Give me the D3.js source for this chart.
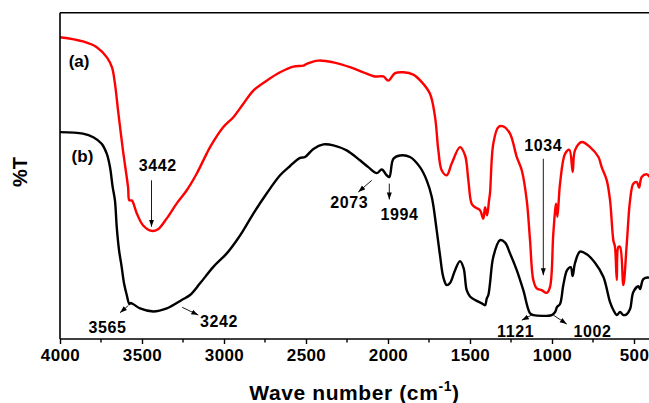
<!DOCTYPE html>
<html>
<head>
<meta charset="utf-8">
<script src="https://cdn.jsdelivr.net/npm/d3@7/dist/d3.min.js"></script>
<style>
body { margin: 0; background: #fff; }
svg text { font-family: "Liberation Sans", Arial, sans-serif; font-weight: bold; fill: #000; }
</style>
</head>
<body>
<svg id="chart" width="649" height="403"></svg>
<script>
// spectrum (a) - red
var waveA = [4000, 3860, 3774, 3713, 3683, 3665, 3646, 3616, 3585, 3577, 3563, 3555, 3532, 3494, 3441, 3402,
  3349, 3288, 3227, 3166, 3105, 3085, 3004, 2943, 2882, 2821, 2740, 2658, 2577, 2516, 2496, 2425, 2333, 2232,
  2150, 2079, 2028, 1998, 1957, 1906, 1846, 1794, 1744, 1713, 1693, 1672, 1642, 1611, 1561, 1530, 1510, 1490,
  1469, 1439, 1419, 1408, 1396, 1384, 1378, 1358, 1327, 1297, 1256, 1215, 1184, 1154, 1134, 1114, 1093, 1063,
  1032, 1012, 992, 975, 967, 951, 920, 894, 874, 860, 819, 768, 717, 697, 666, 646, 626, 616, 605, 595, 585,
  565, 544, 524, 504, 483, 469, 453, 422, 402];
var transA = [100.8, 99.4, 97.4, 94, 90.7, 85.3, 76.3, 63, 50.7, 46.3, 46.3, 45.7, 42, 38, 36.1, 36.7,
  40.3, 45.3, 49.7, 55.3, 62, 64.1, 70.8, 74.1, 78.6, 83, 86.3, 89.1, 91, 91.3, 91.9, 93, 92.4, 90.8,
  89.1, 87.7, 87.7, 86.3, 88.8, 89.1, 88.3, 85.8, 81.9, 74.1, 63, 56.3, 54.7, 58.7, 64.1, 61.3, 53, 45.2,
  44, 43, 40.2, 44, 41.3, 46.3, 48.7, 65.2, 70.8, 71, 68.6, 60.8, 56.3, 46.3, 33, 19.7, 16.9, 16.3,
  15.4, 17.4, 35.2, 45.2, 40.8, 51.9, 61.9, 63.2, 55.8, 63, 65.8, 64.1, 60.8, 57.4, 53, 46.3, 33, 30.8, 19.7, 30.8, 30.8,
  18, 31.9, 46.3, 51.9, 52.4, 50.6, 54.1, 55, 54];

// spectrum (b) - black
var waveB = [4000, 3860, 3797, 3746, 3715, 3695, 3679, 3665, 3654, 3640, 3624, 3610, 3593, 3577, 3570, 3555,
  3512, 3431, 3349, 3258, 3207, 3146, 3065, 2983, 2922, 2882, 2821, 2740, 2658, 2597, 2536, 2506, 2455, 2394,
  2333, 2252, 2171, 2120, 2069, 2038, 2008, 1992, 1967, 1927, 1866, 1805, 1764, 1733, 1703, 1683, 1663, 1642,
  1622, 1591, 1561, 1539, 1520, 1500, 1469, 1428, 1408, 1398, 1388, 1378, 1358, 1317, 1286, 1256, 1215, 1175,
  1134, 1114, 1002, 981, 969, 951, 931, 908, 886, 874, 860, 829, 788, 738, 687, 646, 626, 605, 585, 565, 544,
  524, 504, 473, 463, 443, 408, 402];
var transB = [69.1, 68.6, 67.4, 65.2, 61.9, 57.4, 50.8, 46.3, 37.4, 29.7, 24.1, 18.7, 14.7, 11.7, 12, 11.7,
  10.2, 9.2, 10.2, 13, 14.7, 18.6, 24.1, 28.6, 33, 36.3, 41.9, 48.6, 54.7, 57.8, 60.5, 60.8, 63.5, 65,
  64.7, 63, 59.7, 57.4, 55.4, 56.6, 54.7, 54.1, 60.2, 61.3, 60.8, 57.4, 53, 47.4, 36.3, 28, 20.7, 18,
  18.7, 23, 26, 23.7, 16.3, 14.2, 13, 11.9, 11.3, 13.5, 14.7, 18.6, 27.4, 33, 32.2, 28.6, 23, 16.3,
  8.6, 8, 8, 9, 10.7, 11.7, 18, 23, 24, 21, 25.3, 29.2, 28.3, 25.5, 20.8, 12.3, 9.7, 8, 9, 8, 8.3,
  10, 15.7, 17.6, 16.7, 20, 20.5, 20.3];

var majorTicks = [4000, 3500, 3000, 2500, 2000, 1500, 1000, 500];
var minorTicks = [3750, 3250, 2750, 2250, 1750, 1250, 750];

var seriesNames = ["(a)", "(b)"];

// peak labels: text position and arrow (from -> to) in wavenumber / %T units
var peakLabels = [
  { text: "3442", x: 3404, y: 56,   from: [3442, 53],   to: [3442, 37.5] },
  { text: "3565", x: 3710, y: 2,    from: [3583, 11.2], to: [3634, 8.8] },
  { text: "3242", x: 3030, y: 4,    from: [3255, 10.6], to: [3157, 8] },
  { text: "2073", x: 2236, y: 43.6, from: [2099, 53],   to: [2181, 49.1] },
  { text: "1994", x: 1930, y: 39.9, from: [1992, 51.9], to: [1992, 46.6] },
  { text: "1034", x: 1053, y: 62.7, from: [1053, 60.2], to: [1053, 21.3] },
  { text: "1121", x: 1222, y: 0.8,  from: [1124, 8],    to: [1184, 6.3] },
  { text: "1002", x: 753,  y: 0.8,  from: [992, 8],     to: [910, 5] }
];

var width = 649, height = 403;
var plotLeft = 60, plotTop = 12.7, plotBottom = 339;

var x = d3.scaleLinear().domain([4000, 400]).range([plotLeft, 650.4]);
var y = d3.scaleLinear().domain([0, 109]).range([plotBottom, plotTop]);

var svg = d3.select("#chart");
var defs = svg.append("defs");

defs.append("clipPath").attr("id", "plotClip")
  .append("rect").attr("x", plotLeft).attr("y", plotTop)
  .attr("width", width - plotLeft).attr("height", plotBottom - plotTop);

var marker = defs.append("marker")
  .attr("id", "arrow")
  .attr("markerUnits", "userSpaceOnUse")
  .attr("markerWidth", 8).attr("markerHeight", 6)
  .attr("refX", 7).attr("refY", 3)
  .attr("orient", "auto");
marker.append("path").attr("d", "M0,0.5 L7,3 L0,5.5 Z").attr("fill", "#000");

var line = d3.line()
  .x(function (d) { return x(d[0]); })
  .y(function (d) { return y(d[1]); })
  .curve(d3.curveCatmullRom.alpha(0.5));

var g = svg.append("g").attr("clip-path", "url(#plotClip)");

g.append("path")
  .datum(d3.zip(waveB, transB))
  .attr("d", line)
  .attr("fill", "none")
  .attr("stroke", "#000")
  .attr("stroke-width", 2.4)
  .attr("stroke-linejoin", "round");

g.append("path")
  .datum(d3.zip(waveA, transA))
  .attr("d", line)
  .attr("fill", "none")
  .attr("stroke", "#ff0000")
  .attr("stroke-width", 2.4)
  .attr("stroke-linejoin", "round");

// frame: left axis + top border
svg.append("line").attr("x1", plotLeft).attr("x2", plotLeft).attr("y1", plotTop).attr("y2", plotBottom)
  .attr("stroke", "#000").attr("stroke-width", 1.6);
svg.append("line").attr("x1", plotLeft).attr("x2", width).attr("y1", plotTop).attr("y2", plotTop)
  .attr("stroke", "#000").attr("stroke-width", 1.6);

// x axis
var xAxis = svg.append("g").attr("transform", "translate(0," + plotBottom + ")")
  .call(d3.axisBottom(x).tickValues(majorTicks).tickSize(5).tickSizeOuter(0).tickFormat(d3.format("d")));
xAxis.select(".domain").attr("stroke-width", 1.6).attr("d", "M" + plotLeft + ",0H" + width);
xAxis.selectAll(".tick line").attr("stroke-width", 1.4);
xAxis.selectAll(".tick text")
  .attr("y", 22).attr("dy", null)
  .style("font-size", "17px")
  .style("font-family", "'Liberation Sans', Arial, sans-serif")
  .style("font-weight", "bold")
  .style("letter-spacing", "0.4px");

svg.append("g").attr("transform", "translate(0," + plotBottom + ")")
  .selectAll("line").data(minorTicks).enter().append("line")
  .attr("x1", function (d) { return x(d); }).attr("x2", function (d) { return x(d); })
  .attr("y1", 0).attr("y2", 3.5)
  .attr("stroke", "#000").attr("stroke-width", 1.4);

// axis titles
var title = svg.append("text")
  .attr("x", (plotLeft + width) / 2).attr("y", 400)
  .attr("text-anchor", "middle")
  .style("font-size", "21px")
  .style("letter-spacing", "0.6px");
title.append("tspan").text("Wave number (cm");
title.append("tspan").attr("dy", -9).style("font-size", "14px").text("-1");
title.append("tspan").attr("dy", 9).text(")");

svg.append("text")
  .attr("transform", "translate(27,172) rotate(-90)")
  .attr("text-anchor", "middle")
  .style("font-size", "20px")
  .text("%T");

// series labels
svg.selectAll(".series-label").data(seriesNames).enter().append("text")
  .attr("class", "series-label")
  .attr("x", function (d, i) { return x(i === 0 ? 3884 : 3863); })
  .attr("y", function (d, i) { return y(i === 0 ? 91 : 59); })
  .attr("text-anchor", "middle")
  .style("font-size", "17px")
  .text(function (d) { return d; });

// peak labels and arrows
var ann = svg.append("g");
ann.selectAll("line").data(peakLabels).enter().append("line")
  .attr("x1", function (d) { return x(d.from[0]); })
  .attr("y1", function (d) { return y(d.from[1]); })
  .attr("x2", function (d) { return x(d.to[0]); })
  .attr("y2", function (d) { return y(d.to[1]); })
  .attr("stroke", "#000")
  .attr("stroke-width", 0.9)
  .attr("marker-end", "url(#arrow)");
ann.selectAll("text").data(peakLabels).enter().append("text")
  .attr("x", function (d) { return x(d.x); })
  .attr("y", function (d) { return y(d.y); })
  .attr("text-anchor", "middle")
  .style("font-size", "16px")
  .style("letter-spacing", "0.6px")
  .text(function (d) { return d.text; });
</script>
</body>
</html>
